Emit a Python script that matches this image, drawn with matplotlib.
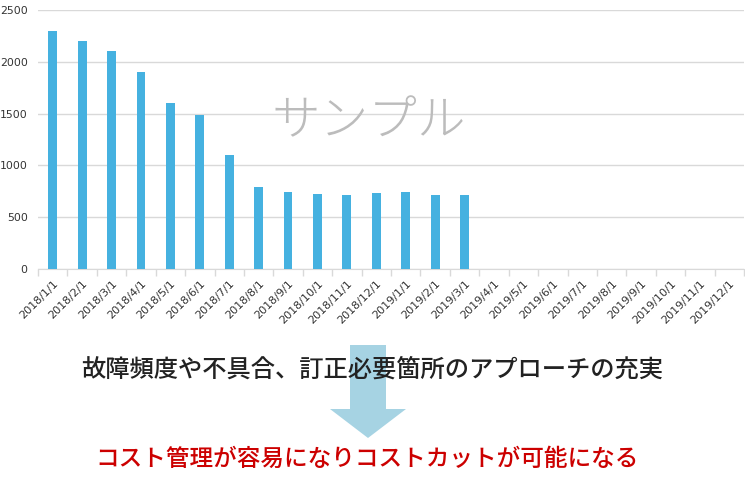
import numpy as np
import matplotlib
matplotlib.use('Agg')
import matplotlib.pyplot as plt
from matplotlib.patches import Polygon

plt.rcParams['font.family'] = ['Noto Sans CJK JP', 'DejaVu Sans']

# Data
dates = [f'2018/{m}/1' for m in range(1, 13)] + [f'2019/{m}/1' for m in range(1, 13)]
values = [2300, 2200, 2100, 1900, 1600, 1490, 1100, 790, 740, 720, 710, 730,
          740, 710, 710]
yticks = [0, 500, 1000, 1500, 2000, 2500]
watermark = 'サンプル'
line1 = '故障頻度や不具合、訂正必要箇所のアプローチの充実'
line2 = 'コスト管理が容易になりコストカットが可能になる'

bar_color = '#45b1e0'
grid_color = '#d9d9d9'

fig = plt.figure(figsize=(7.45, 4.80), dpi=100)
ax = fig.add_axes([38 / 745, 1 - 269 / 480, 706 / 745, 259 / 480])

x = np.arange(len(dates))
ax.bar(x[:len(values)], values, width=0.3, color=bar_color, zorder=3)

ax.set_xlim(-0.5, len(dates) - 0.5)
ax.set_ylim(0, 2500)
ax.set_yticks(yticks)
ax.set_yticklabels([str(v) for v in yticks], fontsize=7.8, color='#333333',
                   family='DejaVu Sans')
ax.yaxis.grid(True, color=grid_color, linewidth=1, zorder=0)
ax.tick_params(axis='y', length=0, pad=7.5)

ax.set_xticks(x)
ax.set_xticklabels(dates, rotation=45, ha='right', va='top', rotation_mode='anchor',
                   fontsize=8, color='#333333', family='DejaVu Sans')
ax.set_xticks(np.arange(len(dates) + 1) - 0.5, minor=True)
ax.tick_params(axis='x', which='major', length=0, pad=7)
ax.tick_params(axis='x', which='minor', length=5, color=grid_color, width=1)

for s in ['top', 'right', 'left']:
    ax.spines[s].set_visible(False)
ax.spines['bottom'].set_color(grid_color)

# watermark
fig.text(369 / 745, 1 - 122 / 480, watermark, fontsize=35, color='#bcbcbc',
         ha='center', va='center', fontweight='light')

# arrow (pixel coordinates from top-left)
arrow_px = np.array([(350, 345), (386, 345), (386, 409), (406, 409), (368, 438),
                     (330, 409), (350, 409)], dtype=float)
arrow_px[:, 1] = 480 - arrow_px[:, 1]
arrow = Polygon(arrow_px / [745, 480], closed=True, facecolor='#a6d3e3',
                edgecolor='none', transform=fig.transFigure)
fig.patches.append(arrow)

fig.text(372 / 745, 1 - 370 / 480, line1, fontsize=17.5, color='#222222',
         ha='center', va='center', fontweight='medium')
fig.text(367 / 745, 1 - 459 / 480, line2, fontsize=17, color='#cc0000',
         ha='center', va='center', fontweight='medium')

fig.savefig('out.png', dpi=100)
